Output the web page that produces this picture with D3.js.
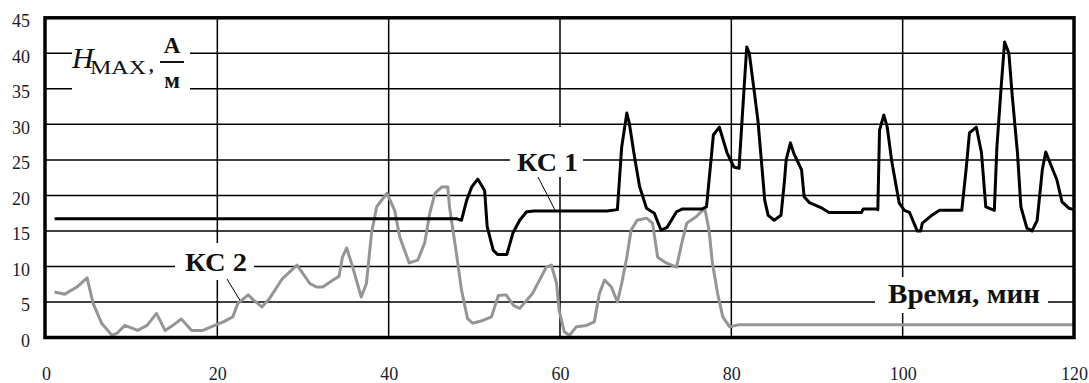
<!DOCTYPE html>
<html><head><meta charset="utf-8">
<script src="https://cdn.jsdelivr.net/npm/d3@7/dist/d3.min.js"></script>
<style>
html,body{margin:0;padding:0;background:#fff;}
svg{display:block;}
text{font-family:"Liberation Serif","Times New Roman",serif;}
</style></head>
<body>
<svg id="chart" width="1089" height="383"></svg>
<script>
const xTicks = [0, 20, 40, 60, 80, 100, 120];
const yTicks = [0, 5, 10, 15, 20, 25, 30, 35, 40, 45];

// КС 1 : [time (min), H_MAX (A/m)]
const ks1 = [[1,16.7],[48,16.7],[48.5,16.5],[49.1,19.3],[49.7,21.2],[50.4,22.3],[51.2,20.7],[51.5,15.6],[52.2,12.3],[52.7,11.7],[53.8,11.7],[54.5,14.7],[55.3,16.5],[56.1,17.7],[57,17.8],[65.5,17.8],[66.7,18],[67.2,26.8],[67.8,31.6],[68.1,30.1],[68.7,25.4],[69.3,21.2],[70.1,18.2],[71,17.5],[71.8,15.1],[72.5,15.5],[73.6,17.7],[74.3,18.1],[76.6,18.1],[77.1,18.4],[77.7,25.9],[77.9,28.5],[78.6,29.6],[79.5,26],[80.3,24],[80.9,23.8],[81.2,29.6],[81.5,35.3],[81.8,40.9],[82.1,40],[82.7,34.4],[83.1,30.6],[83.5,25],[83.9,19.3],[84.3,17.2],[85,16.5],[85.8,17.2],[86.2,22],[86.4,25],[86.9,27.4],[87.3,25.9],[88.2,23.6],[88.5,19.8],[89.1,19],[90.6,18.2],[91.4,17.6],[95.2,17.6],[95.4,18.1],[96.9,18.1],[97.1,18],[97.3,29.2],[97.8,31.3],[98.2,29.6],[98.7,25],[99.6,18.9],[100.2,17.9],[100.8,17.6],[101.7,15],[102.1,15],[102.3,16.1],[103.4,17.2],[104.3,17.9],[106.9,17.9],[107.4,23.6],[107.8,28.8],[108.6,29.6],[109.2,26],[109.7,18.4],[110.7,17.9],[111,26.8],[111.5,35.3],[111.9,41.6],[112.4,40],[112.8,33.9],[113.4,26],[113.8,18.4],[114.5,15.4],[115.1,15],[115.7,16.5],[116.3,23.6],[116.7,26.1],[117.4,24],[118,22.2],[118.6,19.1],[119.4,18.2],[120,18]];

// КС 2
const ks2 = [[1,6.4],[2.2,6.1],[3.6,7.1],[4.8,8.4],[5.5,4.8],[6.5,2],[7.7,0.3],[8.3,0.6],[9.2,1.7],[10.7,1],[11.8,1.7],[12.9,3.4],[13.9,1],[14.8,1.7],[15.8,2.6],[17,1],[18.3,1],[19.7,1.7],[20.7,2.2],[21.8,2.9],[22.4,4.8],[23.6,6],[24.2,5.3],[25.2,4.3],[26.1,5.5],[27.6,8.3],[29.3,10.2],[30.8,7.6],[31.6,7.1],[32.3,7.1],[33.5,8.1],[34.2,8.6],[34.6,11.3],[35.1,12.6],[35.8,9.9],[36.8,5.7],[37.4,7.6],[38,14.7],[38.6,18.4],[39.8,20.3],[40.7,17.9],[41.3,14.1],[42.4,10.5],[43.4,10.9],[44.2,13.3],[44.8,17.5],[45.4,20.3],[46.2,21.2],[46.9,21.2],[47.1,18.4],[47.9,11.9],[48.5,6.7],[49.2,2.7],[49.8,2],[51,2.4],[52,2.9],[52.8,5.9],[53.7,6],[54.6,4.5],[55.3,4.1],[56.8,6.2],[58.4,9.9],[59,10.2],[59.6,7.6],[59.9,3.8],[60.5,0.8],[61.1,0.3],[61.9,1.5],[63.1,1.7],[64,2.2],[64.6,6.2],[65.2,8.1],[66,7.1],[66.7,5],[67.2,7.6],[67.8,11.3],[68.3,15.1],[69,16.5],[70.1,16.8],[70.8,16.1],[71.4,11.3],[72.4,10.5],[73.6,9.9],[74.2,13.2],[74.8,16.1],[75.9,17],[76.9,18.2],[77.4,15.1],[77.8,10.4],[78.4,6.2],[79,2.9],[79.8,1.5],[80.9,1.8],[120,1.8]];

const svg = d3.select("#chart");
const x = d3.scaleLinear().domain([0,120]).range([46,1074]);
const y = d3.scaleLinear().domain([0,45]).range([337.5,17.8]);

// grid
const grid = svg.append("g").attr("stroke","#000").attr("stroke-width",1.5);
grid.selectAll("line.h").data(yTicks.filter(d=>d>0&&d<45)).join("line")
  .attr("x1",x(0)).attr("x2",x(120)).attr("y1",d=>y(d)).attr("y2",d=>y(d));
grid.selectAll("line.v").data(xTicks.filter(d=>d>0&&d<120)).join("line")
  .attr("y1",y(0)).attr("y2",y(45)).attr("x1",d=>x(d)).attr("x2",d=>x(d));

// white label boxes
const boxes = [[72,28,118,70],[510,127,73,50],[175,243,79,37],[875,277,173,36]];
svg.append("g").selectAll("rect").data(boxes).join("rect")
  .attr("x",d=>d[0]).attr("y",d=>d[1]).attr("width",d=>d[2]).attr("height",d=>d[3]).attr("fill","#fff");

// axes labels
const yAxis = svg.append("g").attr("transform","translate(45,3)")
  .call(d3.axisLeft(y).tickValues(yTicks).tickSize(0).tickPadding(15).tickFormat(d3.format("d")));
yAxis.select(".domain").remove();
yAxis.selectAll("text").attr("font-size",18).attr("fill","#1c1c2c")
  .attr("font-family","'Liberation Serif','Times New Roman',serif");
const xAxis = svg.append("g").attr("transform","translate(0,338)")
  .call(d3.axisBottom(x).tickValues(xTicks).tickSize(0).tickPadding(29).tickFormat(d3.format("d")));
xAxis.select(".domain").remove();
xAxis.selectAll("text").attr("font-size",18).attr("fill","#1c1c2c")
  .attr("font-family","'Liberation Serif','Times New Roman',serif");

// leader lines
svg.append("line").attr("x1",538).attr("y1",177).attr("x2",555).attr("y2",210).attr("stroke","#000").attr("stroke-width",1);
svg.append("line").attr("x1",227).attr("y1",279).attr("x2",241).attr("y2",302).attr("stroke","#000").attr("stroke-width",1);

// series
const line = d3.line().x(d=>x(d[0])).y(d=>y(d[1]));
svg.append("path").datum(ks2).attr("d",line).attr("fill","none").attr("stroke","#959595").attr("stroke-width",3).attr("stroke-linejoin","round");
svg.append("path").datum(ks1).attr("d",line).attr("fill","none").attr("stroke","#000").attr("stroke-width",3).attr("stroke-linejoin","round");

// frame
svg.append("rect").attr("x",x(0)-1).attr("y",y(45)).attr("width",x(120)-x(0)+1).attr("height",y(0)-y(45))
  .attr("fill","none").attr("stroke","#000").attr("stroke-width",3.5);

// texts
const lbl = svg.append("g").attr("fill","#111");
lbl.append("text").attr("x",517).attr("y",171).attr("font-size",26).attr("font-weight","bold")
  .attr("textLength",61).attr("lengthAdjust","spacingAndGlyphs").text("КС 1");
lbl.append("text").attr("x",185).attr("y",271).attr("font-size",26).attr("font-weight","bold")
  .attr("textLength",62).attr("lengthAdjust","spacingAndGlyphs").text("КС 2");
lbl.append("text").attr("x",888).attr("y",303).attr("font-size",27).attr("font-weight","bold")
  .attr("textLength",152).attr("lengthAdjust","spacingAndGlyphs").text("Время, мин");
lbl.append("text").attr("x",72).attr("y",68).attr("font-size",30).attr("font-style","italic").text("H");
lbl.append("text").attr("x",90).attr("y",74).attr("font-size",18)
  .attr("textLength",56).attr("lengthAdjust","spacingAndGlyphs").text("MAX");
lbl.append("text").attr("x",149).attr("y",72).attr("font-size",18).attr("font-weight","bold").text(",");
lbl.append("text").attr("x",172).attr("y",53).attr("font-size",23).attr("font-weight","bold").attr("text-anchor","middle").text("А");
lbl.append("line").attr("x1",160).attr("x2",184).attr("y1",62).attr("y2",62).attr("stroke","#111").attr("stroke-width",2);
lbl.append("text").attr("x",172).attr("y",88).attr("font-size",23).attr("font-weight","bold").attr("text-anchor","middle").text("м");
</script>
</body></html>
